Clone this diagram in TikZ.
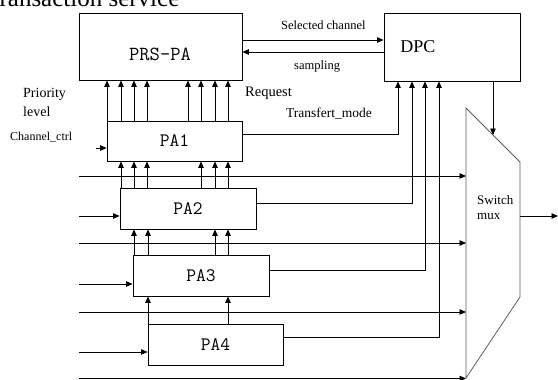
\documentclass[tikz,border=0pt]{standalone}
\usepackage{fontspec}
\setmainfont{Liberation Serif}
\usetikzlibrary{arrows.meta,calc}

\begin{document}
\begin{tikzpicture}[x=1pt,y=-1pt,
    blk/.style={draw,line width=0.8pt,inner sep=0pt,font=\ttfamily\fontsize{19}{21}\selectfont},
    arr/.style={line width=0.8pt,-{Triangle[length=6.5pt,width=5.5pt]}},
    lbl/.style={anchor=base west,inner sep=0pt}]
      \clip (0,0) rectangle (558,380);
      \node[lbl,font=\fontsize{25}{30}\selectfont] (title) at (-15,6) {Transaction service};

      % blocks
      \node[blk,minimum width=163pt,minimum height=67pt] (prs) at (160.5,46.5) {};
      \node[blk,minimum width=136pt,minimum height=68pt] (dpc) at (452,47) {};
      \node[blk,minimum width=135pt,minimum height=40pt] (pa1) at (174.5,141) {PA1};
      \node[blk,minimum width=136pt,minimum height=41pt] (pa2) at (188,208.5) {PA2};
      \node[blk,minimum width=136pt,minimum height=41pt] (pa3) at (201,275.5) {PA3};
      \node[blk,minimum width=135pt,minimum height=41pt] (pa4) at (215.5,344.5) {PA4};
      \node[inner sep=0pt,font=\ttfamily\fontsize{20}{22}\selectfont] (prslbl) at (160,54) {PRS-PA};
      \node[inner sep=0pt,font=\fontsize{18}{20}\selectfont] (dpclbl) at (418,47) {DPC};

      % mux
      \draw[line width=0.8pt,black!65] (466,108) coordinate (mtl) -- (520,162) coordinate (mtr)
            -- (520,297) coordinate (mbr) -- (466,378) coordinate (mbl) -- cycle;
      \node[lbl,align=left,font=\fontsize{13}{14}\selectfont] (muxlbl) at (477,219) {Switch\\[1pt]mux};

      % PRS-PA <-> DPC
      \draw[arr] (prs.east |- 0,40) -- (dpc.west |- 0,40);
      \draw[arr] (dpc.west |- 0,52) -- (prs.east |- 0,52);

      % PA1 -> PRS-PA
      \draw[arr] (107,0 |- pa1.north) -- (107,0 |- prs.south);
      \draw[arr] (121,0 |- pa1.north) -- (121,0 |- prs.south);
      \draw[arr] (134,0 |- pa1.north) -- (134,0 |- prs.south);
      \draw[arr] (147,0 |- pa1.north) -- (147,0 |- prs.south);
      \draw[arr] (188,0 |- pa1.north) -- (188,0 |- prs.south);
      \draw[arr] (201,0 |- pa1.north) -- (201,0 |- prs.south);
      \draw[arr] (215,0 |- pa1.north) -- (215,0 |- prs.south);
      \draw[arr] (228,0 |- pa1.north) -- (228,0 |- prs.south);

      % PA2 -> PA1
      \draw[arr] (121,0 |- pa2.north) -- (121,0 |- pa1.south);
      \draw[arr] (134,0 |- pa2.north) -- (134,0 |- pa1.south);
      \draw[arr] (147,0 |- pa2.north) -- (147,0 |- pa1.south);
      \draw[arr] (201,0 |- pa2.north) -- (201,0 |- pa1.south);
      \draw[arr] (215,0 |- pa2.north) -- (215,0 |- pa1.south);
      \draw[arr] (228,0 |- pa2.north) -- (228,0 |- pa1.south);

      % PA3 -> PA2
      \draw[arr] (134,0 |- pa3.north) -- (134,0 |- pa2.south);
      \draw[arr] (148,0 |- pa3.north) -- (148,0 |- pa2.south);
      \draw[arr] (215,0 |- pa3.north) -- (215,0 |- pa2.south);
      \draw[arr] (228,0 |- pa3.north) -- (228,0 |- pa2.south);

      % PA4 -> PA3
      \draw[arr] (148,0 |- pa4.north) -- (148,0 |- pa3.south);
      \draw[arr] (228,0 |- pa4.north) -- (228,0 |- pa3.south);

      % inputs of the PAs
      \coordinate (c1) at (96,148);
      \coordinate (c2) at (79,216);
      \coordinate (c3) at (79,284);
      \coordinate (c4) at (79,352);
      \draw[arr] (c1) -- (c1 -| pa1.west);
      \draw[arr] (c2) -- (c2 -| pa2.west);
      \draw[arr] (c3) -- (c3 -| pa3.west);
      \draw[arr] (c4) -- (c4 -| pa4.west);

      % PAs -> DPC
      \draw[arr] (pa1.east |- 0,134) -| (398,0 |- dpc.south);
      \draw[arr] (pa2.east |- 0,203) -| (412,0 |- dpc.south);
      \draw[arr] (pa3.east |- 0,270) -| (425,0 |- dpc.south);
      \draw[arr] (pa4.east |- 0,337) -| (439,0 |- dpc.south);

      % data lines -> mux
      \coordinate (b1) at (79,176);
      \coordinate (b2) at (79,243);
      \coordinate (b3) at (79,312);
      \coordinate (b4) at (79,378.5);
      \draw[arr] (b1) -- (b1 -| mtl);
      \draw[arr] (b2) -- (b2 -| mtl);
      \draw[arr] (b3) -- (b3 -| mtl);
      \draw[arr] (b4) -- (b4 -| mtl);

      % DPC -> mux, mux output
      \draw[arr] (493,0 |- dpc.south) -- ($(mtl)!0.5!(mtr)$);
      \coordinate (out) at (558,216);
      \draw[arr] (out -| mtr) -- (out);

      % labels
      \node[lbl,font=\fontsize{12.5}{14}\selectfont] (selch) at (281,30) {Selected channel};
      \node[lbl,font=\fontsize{12.5}{14}\selectfont] (samp) at (294,70) {sampling};
      \node[lbl,font=\fontsize{14}{16}\selectfont] (prio) at (23,97) {Priority};
      \node[lbl,font=\fontsize{14}{16}\selectfont] (lvl) at (23,116) {level};
      \node[lbl,font=\fontsize{12}{14}\selectfont] (chctrl) at (10,140) {Channel\_ctrl};
      \node[lbl,font=\fontsize{14.5}{16}\selectfont] (req) at (245,96) {Request};
      \node[lbl,font=\fontsize{13.5}{16}\selectfont] (tmode) at (286,117) {Transfert\_mode};
    \end{tikzpicture}
\end{document}
